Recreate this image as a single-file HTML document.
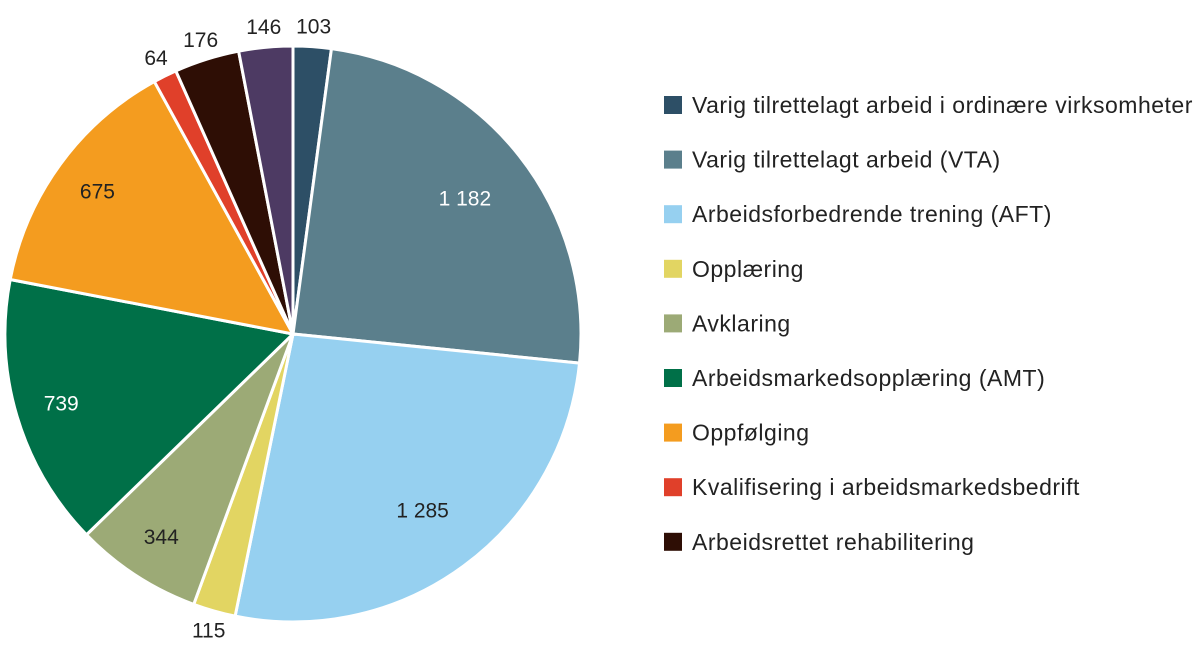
<!DOCTYPE html>
<html><head><meta charset="utf-8"><style>
body{margin:0;background:#fff;}
svg{display:block;font-family:"Liberation Sans",sans-serif;}
</style></head><body>
<svg id="chart" width="1200" height="668" viewBox="0 0 1200 668">
<g id="slices"></g>
<g id="labels"></g>
<g id="legend"></g>
</svg>
<script>
const categories = ["Varig tilrettelagt arbeid i ordinære virksomheter","Varig tilrettelagt arbeid (VTA)","Arbeidsforbedrende trening (AFT)","Opplæring","Avklaring","Arbeidsmarkedsopplæring (AMT)","Oppfølging","Kvalifisering i arbeidsmarkedsbedrift","Arbeidsrettet rehabilitering","Annet"];
const values = [103,1182,1285,115,344,739,675,64,176,146];
const valueLabels = ["103","1 182","1 285","115","344","739","675","64","176","146"];
const colors = ["#2d4f66","#5b7f8c","#96d0f0","#e2d562","#9caa76","#007048","#f49c1f","#e0402a","#2e0e05","#4d3a63"];
const ns="http://www.w3.org/2000/svg";
const cx=293, cy=334, R=288;
const total=values.reduce((a,b)=>a+b,0);
const sg=document.getElementById('slices'), lg=document.getElementById('labels'), leg=document.getElementById('legend');
function pt(a,r){return [cx+r*Math.sin(a), cy-r*Math.cos(a)];}
let acc=0;
values.forEach((v,i)=>{
  const a0=acc/total*2*Math.PI; acc+=v; const a1=acc/total*2*Math.PI;
  const p0=pt(a0,R), p1=pt(a1,R);
  const large=(a1-a0)>Math.PI?1:0;
  const path=document.createElementNS(ns,'path');
  path.setAttribute('d',`M${cx},${cy} L${p0[0]},${p0[1]} A${R},${R} 0 ${large} 1 ${p1[0]},${p1[1]} Z`);
  path.setAttribute('fill',colors[i]);path.setAttribute('stroke','#fff');path.setAttribute('stroke-width','3');
  
  
  sg.appendChild(path);
  const mid=(a0+a1)/2;
  const frac=v/total;
  const inside=frac>0.05;
  const p=pt(mid, inside?(frac>0.2?R*0.76:R*0.84):R*1.07);
  const t=document.createElementNS(ns,'text');
  t.setAttribute('x',p[0]);t.setAttribute('y',p[1]+7);
  t.setAttribute('text-anchor','middle');t.setAttribute('font-size','21');
  const light=[1,5].includes(i);
  t.setAttribute('fill',inside&&light?'#fff':'#222');
  t.textContent=valueLabels[i];
  
  
  lg.appendChild(t);
});
categories.slice(0,9).forEach((c,i)=>{
  const y=105+i*54.6;
  const r=document.createElementNS(ns,'rect');
  r.setAttribute('x',664);r.setAttribute('y',y-9);r.setAttribute('width',18);r.setAttribute('height',18);
  r.setAttribute('fill',colors[i]);
  
  
  leg.appendChild(r);
  const t=document.createElementNS(ns,'text');
  t.setAttribute('x',692);t.setAttribute('y',y+8);t.setAttribute('font-size','23');t.setAttribute('letter-spacing','0.5');t.setAttribute('fill','#222');
  t.textContent=c;
  
  
  leg.appendChild(t);
});
</script>
</body></html>
